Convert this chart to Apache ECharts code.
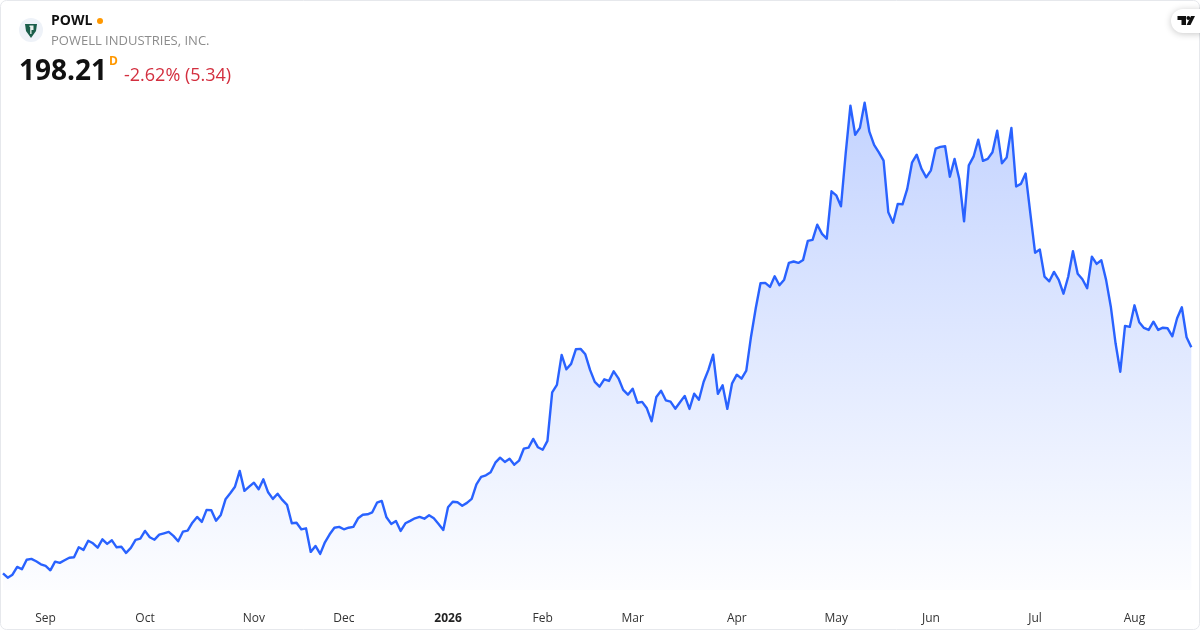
<!DOCTYPE html>
<html>
<head>
<meta charset="utf-8">
<style>html,body{margin:0;padding:0;background:#fff}#c{width:1200px;height:630px}</style>
<script src="https://cdn.jsdelivr.net/npm/echarts@6/dist/echarts.min.js"></script>
</head>
<body>
<div id="c"></div>
<script>
const prices = [
85.2,83.0,84.5,88.4,87.2,92.0,92.4,91.2,89.7,88.9,86.7,91.0,90.4,91.7,93.0,93.2,98.2,96.9,101.5,100.2,
98.0,102.2,99.9,101.7,98.2,98.5,95.4,97.9,101.9,102.5,106.4,103.2,102.0,104.5,105.2,105.9,103.9,101.2,106.0,106.5,
110.5,113.4,110.9,116.9,116.7,111.5,114.4,122.2,125.2,128.5,136.4,126.4,128.5,130.5,127.2,132.2,125.7,122.4,125.0,121.9,
119.4,110.2,110.5,107.2,107.7,95.9,98.9,94.9,100.7,104.7,108.0,108.4,107.2,108.0,108.4,112.7,114.5,114.7,115.7,120.5,
121.4,113.2,109.9,111.4,106.4,110.2,111.4,112.7,113.4,112.5,114.2,112.7,109.9,106.9,118.2,121.0,120.7,119.0,120.4,122.4,
129.7,133.4,134.2,135.7,140.5,143.0,140.9,142.5,139.5,141.5,147.5,148.0,152.4,148.2,147.0,151.4,175.7,179.4,194.4,187.2,
189.9,197.2,197.4,194.7,186.9,180.9,178.5,182.2,181.4,186.2,182.7,176.9,174.5,177.5,170.5,170.9,167.7,161.2,173.4,176.5,
171.7,171.0,167.5,170.7,173.9,167.4,175.0,172.0,181.0,186.9,194.5,174.9,179.2,167.4,180.2,184.5,182.5,186.5,203.5,217.7,
230.2,230.4,228.4,233.7,229.2,232.0,240.4,241.1,240.4,241.9,251.4,251.9,259.5,254.9,252.5,276.2,274.2,268.7,295.2,319.0,
304.5,307.9,320.5,306.0,299.4,295.7,291.5,265.7,260.5,269.9,269.7,277.4,290.5,294.5,287.5,283.2,286.7,297.5,298.4,298.7,
283.5,292.4,282.2,261.2,289.2,293.5,302.0,291.4,292.4,295.7,306.5,290.2,293.1,307.9,278.6,279.9,285.1,265.2,245.5,247.1,
233.5,231.2,235.9,231.9,225.0,233.5,246.2,235.0,232.2,227.7,243.5,239.9,241.7,231.9,218.5,200.2,186.0,208.9,208.4,219.2,
210.7,207.9,206.9,211.0,206.9,208.0,207.7,203.7,212.7,218.2,203.2,198.21
];
const tickLabels = ['Sep','Oct','Nov','Dec','2026','Feb','Mar','Apr','May','Jun','Jul','Aug'];
const tickIndexes = [9,30,53,72,94,114,133,155,176,196,218,239];
const yearTicks = ['2026'];
const symbol = 'POWL';
const company = 'POWELL INDUSTRIES, INC.';
const lastPrice = '198.21';
const change = '-2.62% (5.34)';

const categories = prices.map((_, i) => {
  const k = tickIndexes.indexOf(i);
  return k >= 0 ? tickLabels[k] : '';
});
const FONT = '"Open Sans", sans-serif';
const chart = echarts.init(document.getElementById('c'), null, {renderer: 'canvas'});
chart.setOption({
  animation: false,
  backgroundColor: '#ffffff',
  grid: {left: 2.7, right: 8.7, top: 50, bottom: 40, containLabel: false},
  xAxis: {
    type: 'category',
    data: categories,
    boundaryGap: false,
    axisLine: {show: false},
    axisTick: {show: false},
    splitLine: {show: false},
    axisLabel: {
      interval: 0,
      margin: 23,
      hideOverlap: false,
      fontFamily: FONT,
      fontSize: 12,
      color: '#333333',
      formatter: v => v === '' ? '' : (yearTicks.includes(v) ? '{b|' + v + '}' : v),
      rich: {b: {fontFamily: FONT, fontSize: 12, fontWeight: 'bold', color: '#222222'}}
    }
  },
  yAxis: {type: 'value', min: 76.85, max: 346.85, show: false, splitLine: {show: false}},
  series: [{
    type: 'line',
    data: prices,
    symbol: 'none',
    smooth: false,
    clip: false,
    lineStyle: {color: '#2962ff', width: 2.4, join: 'round'},
    areaStyle: {
      opacity: 1,
      color: new echarts.graphic.LinearGradient(0, 0, 0, 1, [
        {offset: 0, color: 'rgba(41,98,255,0.28)'},
        {offset: 1, color: 'rgba(41,98,255,0.01)'}
      ])
    }
  }],
  graphic: [
    {type: 'rect', z: 100, silent: true, shape: {x: 0.5, y: 0.5, width: 1199, height: 629, r: 6},
      style: {fill: 'none', stroke: '#e6e8ec', lineWidth: 1}},
    {type: 'circle', z: 101, shape: {cx: 31, cy: 30, r: 12}, style: {fill: '#eef2f8'}},
    {type: 'polygon', z: 102, shape: {points: [[25,24],[37,24],[36,31],[31,38],[26,31]]}, style: {fill: '#1b5e4b'}},
    {type: 'polygon', z: 103, shape: {points: [[29.5,25.5],[33.5,25.5],[33.5,30],[31.5,30],[31.5,34],[30.2,34],[30.2,27],[29.5,27]]}, style: {fill: '#e8f0ec'}},
    {type: 'text', z: 101, style: {x: 51, y: 21.5, text: symbol, fill: '#111111', font: 'bold 14px ' + FONT, verticalAlign: 'middle'}},
    {type: 'circle', z: 101, shape: {cx: 100, cy: 21, r: 3}, style: {fill: '#ff9800'}},
    {type: 'text', z: 101, style: {x: 51, y: 41, text: company, fill: '#8c8c8c', font: '13px ' + FONT, verticalAlign: 'middle'}},
    {type: 'text', z: 101, style: {x: 19, y: 72.5, text: lastPrice, fill: '#111111', font: 'bold 28px ' + FONT, verticalAlign: 'middle'}},
    {type: 'text', z: 101, style: {x: 109, y: 62, text: 'D', fill: '#ff9800', font: 'bold 12px ' + FONT, verticalAlign: 'middle'}},
    {type: 'text', z: 101, style: {x: 124, y: 75.5, text: change, fill: '#d32f3f', font: '18px ' + FONT, verticalAlign: 'middle'}},
    {type: 'rect', z: 104, shape: {x: 1171, y: 9, width: 40, height: 24, r: 12},
      style: {fill: '#ffffff', shadowBlur: 7, shadowColor: 'rgba(0,0,0,0.22)', shadowOffsetY: 1}},
    {type: 'polygon', z: 105, shape: {points: [[1177.5,16],[1186,16],[1186,25],[1181.5,25],[1181.5,20],[1177.5,20]]}, style: {fill: '#111111'}},
    {type: 'circle', z: 105, shape: {cx: 1188.3, cy: 18, r: 1.9}, style: {fill: '#111111'}},
    {type: 'polygon', z: 105, shape: {points: [[1191,16],[1195,16],[1190.5,25],[1186.6,25]]}, style: {fill: '#111111'}}
  ]
});
</script>
</body>
</html>
